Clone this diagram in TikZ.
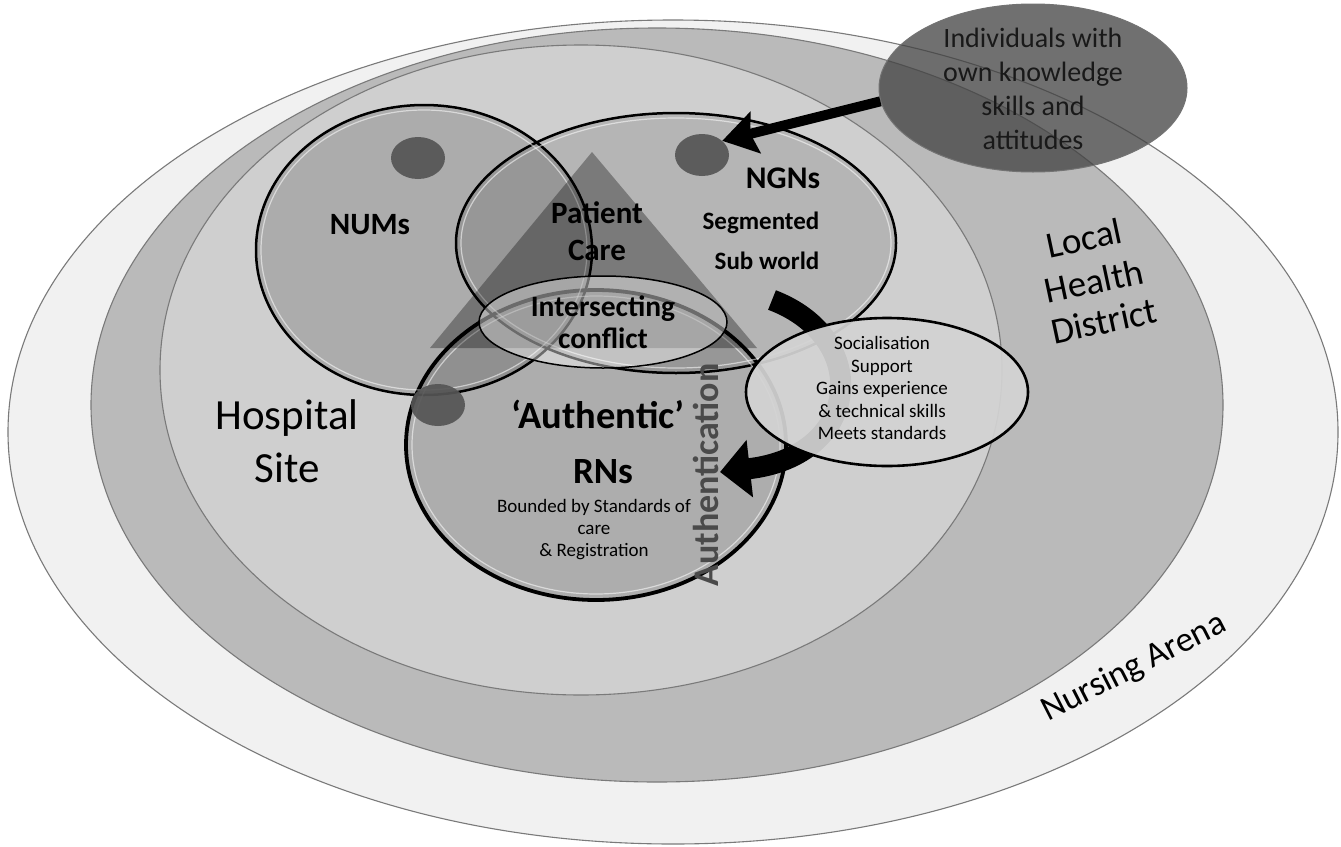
\documentclass[tikz,border=0pt]{standalone}
\usepackage{fontspec}
\setmainfont{Carlito}
\usetikzlibrary{arrows.meta,shapes.geometric}
\definecolor{cOuter}{HTML}{F1F1F1}
\definecolor{cLHD}{HTML}{BABABA}
\definecolor{cHosp}{HTML}{CFCFCF}
\definecolor{cRing}{HTML}{7A7A7A}
\definecolor{cDot}{HTML}{555555}
\definecolor{cSoc}{HTML}{D3D3D3}
\definecolor{cInd}{HTML}{414141}
\definecolor{cAuth}{HTML}{4A4A4A}
\tikzset{
  ring/.style={draw=cRing, line width=1.1pt},
  venn/.style={draw=black, line width=2.5pt},
  dotshape/.style={ellipse, minimum width=54pt, minimum height=42pt, inner sep=0pt, fill=cDot, fill opacity=0.92},
  lbl/.style={inner sep=0pt, align=center, text=black},
  bbig/.style={lbl, font=\fontsize{31}{37}\selectfont\bfseries},
  lhd/.style={lbl, font=\fontsize{37}{41}\selectfont, rotate=12},
}
\begin{document}
\begin{tikzpicture}[x=1pt,y=-1pt]
\useasboundingbox (0,0) rectangle (1341,846);
\fill[white] (0,0) rectangle (1341,846);

% nested arenas
\draw[ring, fill=cOuter] (673,432) ellipse [x radius=665, y radius=412];
\draw[ring, fill=cLHD]   (657,405) ellipse [x radius=566, y radius=377];
\draw[ring, fill=cHosp]  (581,370) ellipse [x radius=421, y radius=325];

% Venn fills
\fill[black, fill opacity=0.17] (424,250) ellipse [x radius=168, y radius=145];
\fill[black, fill opacity=0.12] (676,243) ellipse [x radius=220, y radius=130];
\fill[black, fill opacity=0.16] (596,445) ellipse [x radius=190, y radius=155];
% Venn outlines
\draw[venn] (424,250) ellipse [x radius=168, y radius=145];
\draw[venn] (676,243) ellipse [x radius=220, y radius=130];
\draw[venn, line width=3.8pt] (596,445) ellipse [x radius=190, y radius=155];
% bevel highlights
\draw[white, opacity=0.55, line width=1.2pt] (424,250) ellipse [x radius=163, y radius=140];
\draw[white, opacity=0.55, line width=1.2pt] (676,243) ellipse [x radius=215, y radius=125];
\draw[white, opacity=0.55, line width=1.2pt] (596,445) ellipse [x radius=184, y radius=149];

% patient care triangle
\fill[black, fill opacity=0.32] (592,152) -- (757,348) -- (430,348) -- cycle;

% intersecting conflict ellipse
\draw[black, line width=1.5pt, fill=white, fill opacity=0.42] (603,322) ellipse [x radius=124, y radius=46];

% dots
\node[dotshape] (dotN) at (418,158) {};
\node[dotshape] (dotG) at (702,155) {};
\node[dotshape] (dotR) at (438,405) {};

% curved arrow (behind socialisation ellipse)
\coordinate (cStart) at (772,300);
\coordinate (cEnd) at (720,472);
\draw[line width=21pt, -{Triangle[length=30pt,width=56pt]}] (cStart) .. controls (872,338) and (862,456) .. (cEnd);

% socialisation ellipse
\node[ellipse, draw=black, line width=2.6pt, fill=cSoc, fill opacity=0.93, minimum width=282pt, minimum height=148pt, inner sep=0pt] (soc) at (887,392) {};

% individuals ellipse
\node[ellipse, draw=black!55, line width=1pt, fill=cInd, fill opacity=0.75, minimum width=308pt, minimum height=168pt, inner sep=0pt] (indiv) at (1033,88) {};

% straight arrow
\draw[line width=10pt, -{Stealth[length=34pt,width=42pt,inset=5pt]}] (indiv.185) -- (dotG.35);

% texts
\node[bbig] (tNUM) at (370,225) {NUMs};
\node[bbig] (tPC) at (597,231) {Patient\\Care};
\node[lbl, font=\fontsize{31.5}{32}\selectfont\bfseries] (tNGN) at (783,178) {NGNs};
\node[lbl, font=\fontsize{25}{26}\selectfont\bfseries] (tSeg) at (761,223) {Segmented};
\node[lbl, font=\fontsize{25}{26}\selectfont\bfseries] (tSub) at (767,261) {Sub world};
\node[lbl, font=\fontsize{29.5}{31.5}\selectfont\bfseries] (tInt) at (603,322) {Intersecting\\conflict};
\node[lbl, font=\fontsize{38.5}{40}\selectfont\bfseries] (tAuth) at (598,414) {‘Authentic’};
\node[lbl, font=\fontsize{37}{40}\selectfont\bfseries] (tRN) at (603,472) {RNs};
\node[lbl, font=\fontsize{19}{22}\selectfont] (tBound) at (594,530) {Bounded by Standards of\\care\\\& Registration};
\node[lbl, font=\fontsize{36}{38}\selectfont\bfseries, text=cAuth, rotate=90] (tAuthn) at (706,475) {Authentication};
\node[lbl, font=\fontsize{19}{22.5}\selectfont] (tSoc) at (882,388) {Socialisation\\Support\\Gains experience\\\& technical skills\\Meets standards};
\node[lbl, font=\fontsize{28}{34}\selectfont, text=black!90] (tInd) at (1033,89) {Individuals with\\own knowledge\\skills and\\attitudes};
\node[lbl, font=\fontsize{43}{53}\selectfont] (tHosp) at (287,441) {Hospital\\Site};
\node[lhd] (tLocal) at (1084,238) {Local};
\node[lhd] (tHealth) at (1094,281) {Health};
\node[lhd] (tDistrict) at (1104,321) {District};
\node[lbl, font=\fontsize{35}{36}\selectfont, rotate=27] (tNA) at (1134,668) {Nursing Arena};
\end{tikzpicture}
\end{document}
